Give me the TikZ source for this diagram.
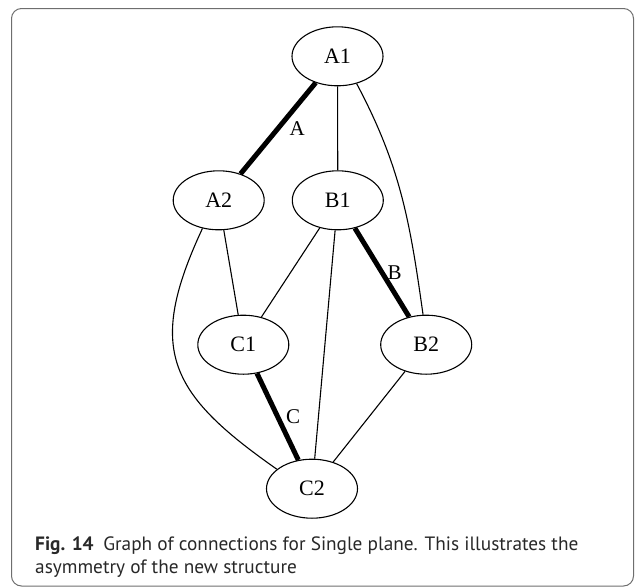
\documentclass[tikz,border=0pt]{standalone}
\usepackage{fontspec}
\usepackage{xcolor}
\setmainfont{Liberation Serif}
\newfontfamily\captionfont{PT Sans}
\usetikzlibrary{shapes.geometric}
\definecolor{framegray}{RGB}{110, 110, 110}
\definecolor{captiongray}{RGB}{40, 40, 40}

\begin{document}
\begin{tikzpicture}[
  x=1pt, y=1pt,
  plane/.style={
    draw=black,
    ellipse,
    line width=1.1pt,
    minimum width=91pt,
    minimum height=59pt,
    inner sep=0pt,
    font=\fontsize{22}{24}\selectfont,
  },
  link/.style={
    line width=1.1pt,
  },
  strong/.style={
    line width=5pt,
  },
  tag/.style={
    inner sep=2pt,
    font=\fontsize{21}{24}\selectfont,
  }
]

  \useasboundingbox (0,0) rectangle (635,-587);

  % frame
  \draw[framegray, line width=1pt, rounded corners=10pt] (11.5,-8.5) rectangle (633.5,-586);

  % planes
  \node[plane] (a1) at (337.5,-56.3) {A1};
  \node[plane] (a2) at (218.7,-200.3) {A2};
  \node[plane] (b1) at (337.8,-200.3) {B1};
  \node[plane] (c1) at (243.3,-344.7) {C1};
  \node[plane] (b2) at (426.2,-344.7) {B2};
  \node[plane] (c2) at (312,-488.7) {C2};

  % strong connections
  \draw[strong] (a1) -- (a2) node[tag, midway, right=7pt] {A};
  \draw[strong] (b1) -- (b2) node[tag, midway, right=1pt] {B};
  \draw[strong] (c1) -- (c2) node[tag, midway, right=4pt] {C};

  % other connections
  \draw[link] (a1) -- (b1);
  \draw[link] (a1.-55) to[out=-62, in=98] (b2.96);
  \draw[link] (a2) -- (c1);
  \draw[link] (a2.-120) to[out=-115, in=145, looseness=1.35] (c2.151);
  \draw[link] (b1) -- (c1);
  \draw[link] (b1) -- (c2);
  \draw[link] (b2) -- (c2);

  % caption
  \node[anchor=base west, align=left, inner sep=0pt, text=captiongray,
        font=\captionfont\fontsize{19.3}{23}\selectfont] (caption) at (35,-573)
    {\textbf{Fig. 14}\hspace{0.5em}Graph of connections for Single plane. This illustrates the\\
     asymmetry of the new structure};

\end{tikzpicture}
\end{document}
